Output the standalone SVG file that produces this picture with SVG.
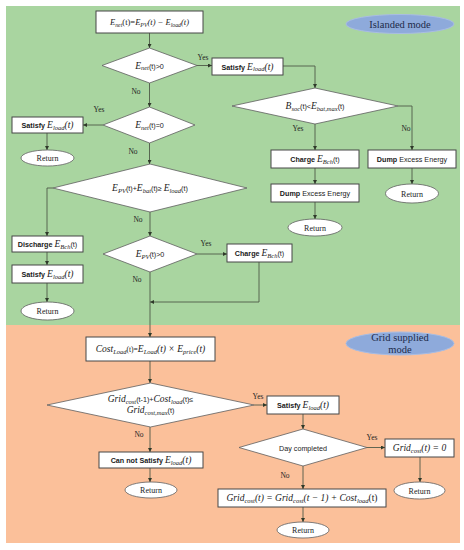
<svg xmlns="http://www.w3.org/2000/svg" width="464" height="550" viewBox="0 0 464 550">
<style>
.bg1{fill:#a9d5a0}
.bg2{fill:#fbc09a}
.box{fill:#fff;stroke:#474747;stroke-width:1}
.dia{fill:#fff;stroke:#5e5e5e;stroke-width:0.8}
.ret{fill:#fff;stroke:#5e5e5e;stroke-width:0.8}
.mode{fill:#8eaadb;stroke:#a9bde3;stroke-width:1}
.modet{font-family:"Liberation Serif",serif;font-size:10.5px;fill:#1d2a4a;text-anchor:middle}
.c{fill:none;stroke:#4f5a48;stroke-width:0.9}
.lbl{font-family:"Liberation Serif",serif;font-size:7.5px;fill:#222;text-anchor:middle}
.rt{font-family:"Liberation Serif",serif;font-size:8px;fill:#222;text-anchor:middle}
.m{font-family:"Liberation Serif",serif;font-size:9.5px;fill:#1a1a1a;text-anchor:middle}
.m2{font-size:8.5px}
.i{font-style:italic}
.sub{font-size:6.5px;font-style:italic}
.m2 .sub{font-size:5.8px}
.sn{font-family:"Liberation Sans",sans-serif;font-size:7.2px;font-style:normal}
.b{font-family:"Liberation Sans",sans-serif;font-size:7.2px;font-weight:bold;font-style:normal}
</style>
<defs>
<marker id="ah" viewBox="0 0 6 6" refX="6" refY="3" markerWidth="4" markerHeight="4" orient="auto" markerUnits="userSpaceOnUse"><path d="M0,0 L6,3 L0,6 z" fill="#2f3a2a"/></marker>
</defs>
<g id="background">
<rect class="bg1" x="6" y="6" width="454" height="319"/>
<rect class="bg2" x="6" y="325" width="454" height="218"/>
</g>
<g id="connectors">
<path class="c" d="M149.5,33 V48" marker-end="url(#ah)"/>
<path class="c" d="M197,65.5 H212" marker-end="url(#ah)"/>
<path class="c" d="M149.5,83 V107" marker-end="url(#ah)"/>
<path class="c" d="M283,66 H315 V88" marker-end="url(#ah)"/>
<path class="c" d="M103,125 H83" marker-end="url(#ah)"/>
<path class="c" d="M47,133 V150" marker-end="url(#ah)"/>
<path class="c" d="M149.5,143 V164" marker-end="url(#ah)"/>
<path class="c" d="M315,124 V150" marker-end="url(#ah)"/>
<path class="c" d="M398,106 H412 V150" marker-end="url(#ah)"/>
<path class="c" d="M315,168 V184" marker-end="url(#ah)"/>
<path class="c" d="M315,202 V219" marker-end="url(#ah)"/>
<path class="c" d="M412,168 V184" marker-end="url(#ah)"/>
<path class="c" d="M53,188 H47 V236" marker-end="url(#ah)"/>
<path class="c" d="M47,252 V265" marker-end="url(#ah)"/>
<path class="c" d="M47,283 V302" marker-end="url(#ah)"/>
<path class="c" d="M150,212 V236" marker-end="url(#ah)"/>
<path class="c" d="M197,254 H227" marker-end="url(#ah)"/>
<path class="c" d="M259,262 V302 H150" marker-end="url(#ah)"/>
<path class="c" d="M150,272 V337" marker-end="url(#ah)"/>
<path class="c" d="M150,361 V383" marker-end="url(#ah)"/>
<path class="c" d="M254,405 H267" marker-end="url(#ah)"/>
<path class="c" d="M150,427 V452" marker-end="url(#ah)"/>
<path class="c" d="M150,468 V482" marker-end="url(#ah)"/>
<path class="c" d="M303,414 V429" marker-end="url(#ah)"/>
<path class="c" d="M367,447.5 H385" marker-end="url(#ah)"/>
<path class="c" d="M420,457 V482" marker-end="url(#ah)"/>
<path class="c" d="M303,466 V489" marker-end="url(#ah)"/>
<path class="c" d="M303,507 V522" marker-end="url(#ah)"/>
</g>
<g id="labels">
<text class="lbl" x="203" y="60">Yes</text>
<text class="lbl" x="136" y="94">No</text>
<text class="lbl" x="99" y="112">Yes</text>
<text class="lbl" x="133" y="154">No</text>
<text class="lbl" x="298" y="131">Yes</text>
<text class="lbl" x="406" y="131">No</text>
<text class="lbl" x="138" y="222">No</text>
<text class="lbl" x="206" y="246">Yes</text>
<text class="lbl" x="137" y="282">No</text>
<text class="lbl" x="258" y="399">Yes</text>
<text class="lbl" x="139" y="437">No</text>
<text class="lbl" x="372" y="440">Yes</text>
<text class="lbl" x="285" y="478">No</text>
</g>
<g id="islanded-mode">
<ellipse class="mode" cx="400" cy="24" rx="54" ry="9.5"/>
<text class="modet" x="400" y="27.5">Islanded mode</text>
</g>
<g id="grid-mode">
<ellipse class="mode" cx="400" cy="343.5" rx="54" ry="11.5"/>
<text class="modet" x="400" y="341">Grid supplied</text>
<text class="modet" x="400" y="352.5">mode</text>
</g>
<g id="enet-calc">
<rect class="box" x="96" y="11" width="107" height="22"/>
<text class="m m2" x="149.5" y="25"><tspan class="i">E</tspan><tspan class="sub" dy="1.8">net</tspan><tspan dy="-1.8">(t)=</tspan><tspan class="i">E</tspan><tspan class="sub" dy="1.8">PV</tspan><tspan class="i" dy="-1.8">(t) − E</tspan><tspan class="sub" dy="1.8">load</tspan><tspan class="i" dy="-1.8">(t)</tspan></text>
</g>
<g id="enet-gt0">
<polygon class="dia" points="149.5,48 197,65.5 149.5,83 102,65.5"/>
<text class="m" x="149.5" y="68.5"><tspan class="i">E</tspan><tspan class="sub" dy="1.8">net</tspan><tspan class="sn" dy="-1.8">(t)&gt;0</tspan></text>
</g>
<g id="satisfy-1">
<rect class="box" x="212" y="58" width="71" height="17"/>
<text class="m" x="247.5" y="69.5"><tspan class="b">Satisfy </tspan><tspan class="i">E</tspan><tspan class="sub" dy="1.8">load</tspan><tspan class="i" dy="-1.8">(t)</tspan></text>
</g>
<g id="bsoc-check">
<polygon class="dia" points="315,88 398,106 315,124 232,106"/>
<text class="m" x="315" y="109"><tspan class="i">B</tspan><tspan class="sub" dy="1.8">soc</tspan><tspan class="sn" dy="-1.8">(t)&lt;</tspan><tspan class="i">E</tspan><tspan class="sub" dy="1.8">bat,max</tspan><tspan class="sn" dy="-1.8">(t)</tspan></text>
</g>
<g id="charge-1">
<rect class="box" x="271" y="150" width="88" height="18"/>
<text class="m" x="315" y="162"><tspan class="b">Charge </tspan><tspan class="i">E</tspan><tspan class="sub" dy="1.8">Bch</tspan><tspan class="sn" dy="-1.8">(t)</tspan></text>
</g>
<g id="dump-1">
<rect class="box" x="368" y="150" width="88" height="18"/>
<text class="m" x="412" y="161.5"><tspan class="b">Dump </tspan><tspan class="sn">Excess Energy</tspan></text>
</g>
<g id="return-1">
<ellipse class="ret" cx="412" cy="193.5" rx="26.5" ry="9.5"/>
<text class="rt" x="412" y="196.5">Return</text>
</g>
<g id="dump-2">
<rect class="box" x="271" y="184" width="88" height="18"/>
<text class="m" x="315" y="195.5"><tspan class="b">Dump </tspan><tspan class="sn">Excess Energy</tspan></text>
</g>
<g id="return-2">
<ellipse class="ret" cx="315" cy="227.5" rx="27" ry="8.5"/>
<text class="rt" x="315" y="230.5">Return</text>
</g>
<g id="enet-eq0">
<polygon class="dia" points="149.5,107 195,125 149.5,143 103,125"/>
<text class="m" x="149.5" y="128"><tspan class="i">E</tspan><tspan class="sub" dy="1.8">net</tspan><tspan class="sn" dy="-1.8">(t)=0</tspan></text>
</g>
<g id="satisfy-2">
<rect class="box" x="12" y="117" width="71" height="16"/>
<text class="m" x="47.5" y="128"><tspan class="b">Satisfy </tspan><tspan class="i">E</tspan><tspan class="sub" dy="1.8">load</tspan><tspan class="i" dy="-1.8">(t)</tspan></text>
</g>
<g id="return-3">
<ellipse class="ret" cx="47.5" cy="158" rx="26.5" ry="8"/>
<text class="rt" x="47.5" y="161">Return</text>
</g>
<g id="pv-bat-check">
<polygon class="dia" points="150,164 247,188 150,212 53,188"/>
<text class="m" x="150" y="191"><tspan class="i">E</tspan><tspan class="sub" dy="1.8">PV</tspan><tspan class="sn" dy="-1.8">(t)+</tspan><tspan class="i">E</tspan><tspan class="sub" dy="1.8">bat</tspan><tspan class="sn" dy="-1.8">(t)≥ </tspan><tspan class="i">E</tspan><tspan class="sub" dy="1.8">load</tspan><tspan class="sn" dy="-1.8">(t)</tspan></text>
</g>
<g id="discharge">
<rect class="box" x="12" y="236" width="71" height="16"/>
<text class="m" x="47.5" y="247"><tspan class="b">Discharge </tspan><tspan class="i">E</tspan><tspan class="sub" dy="1.8">Bch</tspan><tspan class="sn" dy="-1.8">(t)</tspan></text>
</g>
<g id="satisfy-3">
<rect class="box" x="12" y="265" width="71" height="18"/>
<text class="m" x="47.5" y="277"><tspan class="b">Satisfy </tspan><tspan class="i">E</tspan><tspan class="sub" dy="1.8">load</tspan><tspan class="i" dy="-1.8">(t)</tspan></text>
</g>
<g id="return-4">
<ellipse class="ret" cx="47.5" cy="311" rx="26.5" ry="9"/>
<text class="rt" x="47.5" y="314">Return</text>
</g>
<g id="pv-gt0">
<polygon class="dia" points="150,236 197,254 150,272 103,254"/>
<text class="m" x="150" y="257"><tspan class="i">E</tspan><tspan class="sub" dy="1.8">PV</tspan><tspan class="sn" dy="-1.8">(t)&gt;0</tspan></text>
</g>
<g id="charge-2">
<rect class="box" x="227" y="244" width="65" height="18"/>
<text class="m" x="259.5" y="256"><tspan class="b">Charge </tspan><tspan class="i">E</tspan><tspan class="sub" dy="1.8">Bch</tspan><tspan class="sn" dy="-1.8">(t)</tspan></text>
</g>
<g id="cost-calc">
<rect class="box" x="86" y="337" width="129" height="24"/>
<text class="m" x="150.5" y="352"><tspan class="i">Cost</tspan><tspan class="sub" dy="1.8">Load</tspan><tspan dy="-1.8" font-size="7.5">(t)=</tspan><tspan class="i">E</tspan><tspan class="sub" dy="1.8">Load</tspan><tspan class="i" dy="-1.8">(t) × E</tspan><tspan class="sub" dy="1.8">price</tspan><tspan class="i" dy="-1.8">(t)</tspan></text>
</g>
<g id="grid-check">
<polygon class="dia" points="150.5,383 254,405 150.5,427 47,405"/>
<text class="m" x="150.5" y="402"><tspan class="i">Grid</tspan><tspan class="sub" dy="1.8">cost</tspan><tspan class="sn" dy="-1.8">(t-1)+</tspan><tspan class="i">Cost</tspan><tspan class="sub" dy="1.8">load</tspan><tspan class="sn" dy="-1.8">(t)≤</tspan></text>
<text class="m" x="150.5" y="413"><tspan class="i">Grid</tspan><tspan class="sub" dy="1.8">cost,max</tspan><tspan class="sn" dy="-1.8">(t)</tspan></text>
</g>
<g id="satisfy-grid">
<rect class="box" x="267" y="396" width="72" height="18"/>
<text class="m" x="303" y="408"><tspan class="b">Satisfy </tspan><tspan class="i">E</tspan><tspan class="sub" dy="1.8">load</tspan><tspan class="i" dy="-1.8">(t)</tspan></text>
</g>
<g id="cannot-satisfy">
<rect class="box" x="99" y="452" width="104" height="16"/>
<text class="m" x="151" y="463"><tspan class="b">Can not Satisfy </tspan><tspan class="i">E</tspan><tspan class="sub" dy="1.8">load</tspan><tspan class="i" dy="-1.8">(t)</tspan></text>
</g>
<g id="return-5">
<ellipse class="ret" cx="151" cy="490" rx="26" ry="8"/>
<text class="rt" x="151" y="493">Return</text>
</g>
<g id="day-completed">
<polygon class="dia" points="303,429 367,447.5 303,466 239,447.5"/>
<text class="m" x="303" y="450.5"><tspan class="sn" font-size="8px">Day completed</tspan></text>
</g>
<g id="grid-reset">
<rect class="box" x="385" y="439" width="69" height="18"/>
<text class="m" x="419.5" y="451"><tspan class="i">Grid</tspan><tspan class="sub" dy="1.8">cost</tspan><tspan class="i" dy="-1.8">(t) = 0</tspan></text>
</g>
<g id="return-6">
<ellipse class="ret" cx="419.5" cy="490.5" rx="25.5" ry="8.5"/>
<text class="rt" x="419.5" y="493.5">Return</text>
</g>
<g id="grid-update">
<rect class="box" x="218" y="489" width="168" height="18"/>
<text class="m" x="302" y="501"><tspan class="i">Grid</tspan><tspan class="sub" dy="1.8">cost</tspan><tspan class="i" dy="-1.8">(t) = Grid</tspan><tspan class="sub" dy="1.8">cost</tspan><tspan class="i" dy="-1.8">(t − 1) + Cost</tspan><tspan class="sub" dy="1.8">load</tspan><tspan dy="-1.8">(t)</tspan></text>
</g>
<g id="return-7">
<ellipse class="ret" cx="303" cy="530" rx="26" ry="8"/>
<text class="rt" x="303" y="533">Return</text>
</g>
</svg>
